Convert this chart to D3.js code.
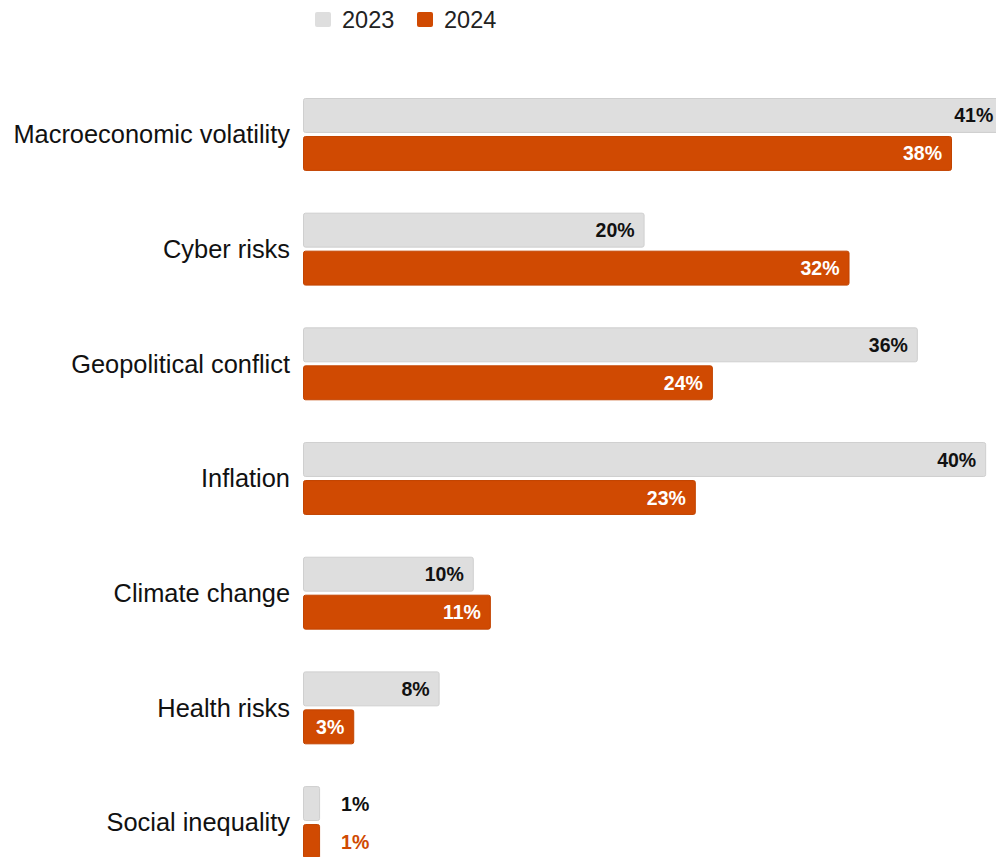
<!DOCTYPE html>
<html>
<head>
<meta charset="utf-8">
<script src="https://cdn.jsdelivr.net/npm/d3@7"></script>
<style>
  body { margin: 0; background: #fff; }
  svg { display: block; font-family: "Liberation Sans", Arial, sans-serif; }
</style>
</head>
<body>
<div id="chart"></div>
<script>
const categories = [
  "Macroeconomic volatility",
  "Cyber risks",
  "Geopolitical conflict",
  "Inflation",
  "Climate change",
  "Health risks",
  "Social inequality",
];
const seriesNames = ["2023", "2024"];
const values2023 = [41, 20, 36, 40, 10, 8, 1];
const values2024 = [38, 32, 24, 23, 11, 3, 1];

const colors = { "2023": "#dedede", "2024": "#d04a02" };
const strokes = { "2023": "#cfcfcf", "2024": "#c24400" };

const width = 996;
const height = 857;

const rows = categories.map((c, i) => ({
  category: c,
  values: [
    { series: "2023", value: values2023[i] },
    { series: "2024", value: values2024[i] },
  ],
}));

const svg = d3
  .select("#chart")
  .append("svg")
  .attr("width", width)
  .attr("height", height);

// scales
const x = d3.scaleLinear().domain([0, 38]).range([303, 952]);

const y0 = d3
  .scaleBand()
  .domain(categories)
  .range([98, 859])
  .paddingInner(0.364)
  .paddingOuter(0);

const y1 = d3
  .scaleBand()
  .domain(seriesNames)
  .range([0, y0.bandwidth()])
  .paddingInner(0.08);

// category labels
svg
  .append("g")
  .selectAll("text")
  .data(categories)
  .enter()
  .append("text")
  .attr("x", 290)
  .attr("y", (d) => y0(d) + y0.bandwidth() / 2)
  .attr("dy", "0.35em")
  .attr("text-anchor", "end")
  .style("font-size", "25.4px")
  .style("fill", "#111")
  .text((d) => d);

// bars
const groups = svg
  .append("g")
  .selectAll("g")
  .data(rows)
  .enter()
  .append("g")
  .attr("transform", (d) => `translate(0,${y0(d.category)})`);

groups
  .selectAll("rect")
  .data((d) => d.values)
  .enter()
  .append("rect")
  .attr("x", x(0) + 0.5)
  .attr("y", (d) => y1(d.series) + 0.5)
  .attr("width", (d) => x(d.value) - x(0) - 1)
  .attr("height", y1.bandwidth() - 1)
  .attr("rx", 2)
  .attr("fill", (d) => colors[d.series])
  .attr("stroke", (d) => strokes[d.series])
  .attr("stroke-width", 1);

// value labels
groups
  .selectAll("text")
  .data((d) => d.values)
  .enter()
  .append("text")
  .each(function (d) {
    const inside = x(d.value) - x(0) > 40;
    const t = d3.select(this);
    t.attr("y", y1(d.series) + y1.bandwidth() / 2)
      .attr("dy", "0.36em")
      .style("font-size", "19.5px")
      .style("font-weight", "bold")
      .text(d.value + "%");
    if (inside) {
      t.attr("x", x(d.value) - 10)
        .attr("text-anchor", "end")
        .style("fill", d.series === "2023" ? "#111" : "#fff");
    } else {
      t.attr("x", x(d.value) + 21)
        .attr("text-anchor", "start")
        .style("fill", d.series === "2023" ? "#111" : "#d04a02")
        .style("stroke", "#fff")
        .style("stroke-width", 4)
        .style("stroke-linejoin", "round")
        .style("paint-order", "stroke");
    }
  });

// legend
const legend = svg
  .append("g")
  .selectAll("g")
  .data(seriesNames)
  .enter()
  .append("g")
  .attr("transform", (d, i) => `translate(${315 + i * 102},0)`);

legend
  .append("rect")
  .attr("x", 0)
  .attr("y", 12)
  .attr("width", 16)
  .attr("height", 15)
  .attr("rx", 2)
  .attr("fill", (d) => colors[d]);

legend
  .append("text")
  .attr("x", 27)
  .attr("y", 28)
  .style("font-size", "23.5px")
  .style("fill", "#222")
  .text((d) => d);
</script>
</body>
</html>
